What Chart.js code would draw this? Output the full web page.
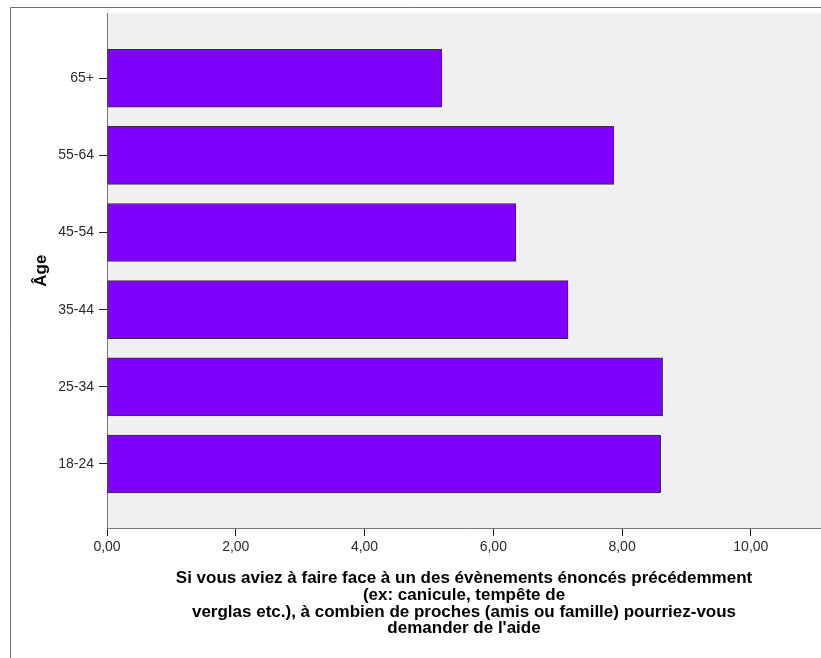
<!DOCTYPE html>
<html>
<head>
  <title>Âge</title>
  <script src="https://cdn.jsdelivr.net/npm/chart.js"></script>
  <style>
    body { margin: 0; background: #fff; }
  </style>
</head>
<body>
<canvas id="ageChart" width="821" height="658"></canvas>
<script>
  // tranches d'âge, du bas vers le haut
  const categories = ['18-24', '25-34', '35-44', '45-54', '55-64', '65+'];
  const values = [8.60, 8.63, 7.16, 6.35, 7.87, 5.20];
  const xTicks = [0, 2, 4, 6, 8, 10];
  const xTitle = [
    'Si vous aviez à faire face à un des évènements énoncés précédemment',
    '(ex: canicule, tempête de',
    'verglas etc.), à combien de proches (amis ou famille) pourriez-vous',
    'demander de l\'aide'
  ];
  const yTitle = 'Âge';

  const points = values.map((v, i) => ({ x: v, y: i }));
  const fontFamily = '"Liberation Sans", Arial, sans-serif';

  // fond gris de la zone et cadre extérieur
  const decor = {
    id: 'decor',
    beforeDraw(chart) {
      const { ctx, chartArea } = chart;
      ctx.save();
      ctx.fillStyle = '#f0f0f0';
      ctx.fillRect(chartArea.left, chartArea.top, chartArea.right - chartArea.left, chartArea.bottom - chartArea.top);
      ctx.strokeStyle = '#6e6e6e';
      ctx.lineWidth = 1;
      ctx.beginPath();
      ctx.moveTo(10.5, 658);
      ctx.lineTo(10.5, 7.5);
      ctx.lineTo(821, 7.5);
      ctx.stroke();
      ctx.restore();
    }
  };

  new Chart(document.getElementById('ageChart'), {
    type: 'bar',
    data: {
      datasets: [{
        data: points,
        backgroundColor: '#7f00ff',
        borderColor: '#333333',
        borderWidth: 1,
        borderSkipped: false,
        barThickness: 58
      }]
    },
    options: {
      indexAxis: 'y',
      responsive: false,
      animation: false,
      layout: { padding: { left: 10, top: 13, right: 0, bottom: 0 } },
      plugins: { legend: { display: false }, tooltip: { enabled: false } },
      scales: {
        x: {
          type: 'linear',
          min: 0,
          max: 11.09,
          afterBuildTicks: s => { s.ticks = xTicks.map(v => ({ value: v })); },
          afterFit: s => { s.height = 130; },
          grid: { drawOnChartArea: false, drawTicks: true, tickLength: 8, tickColor: '#222' },
          border: { display: true, color: '#777' },
          ticks: {
            padding: 3,
            color: '#2a2a2a',
            font: { family: fontFamily, size: 14 },
            callback: v => v.toFixed(2).replace('.', ',')
          },
          title: {
            display: true,
            text: xTitle,
            color: '#000',
            font: { family: fontFamily, size: 17, weight: 'bold', lineHeight: 0.98 },
            padding: { top: 4, bottom: 21 }
          }
        },
        y: {
          type: 'linear',
          offset: false,
          min: -0.83,
          max: 5.84,
          afterBuildTicks: s => { s.ticks = categories.map((c, i) => ({ value: i })); },
          afterFit: s => { s.width = 97; },
          grid: { offset: false, drawOnChartArea: false, drawTicks: true, tickLength: 8, tickColor: '#222' },
          border: { display: true, color: '#777' },
          ticks: {
            padding: 5,
            color: '#2a2a2a',
            font: { family: fontFamily, size: 14 },
            callback: v => categories[v]
          },
          title: {
            display: true,
            text: yTitle,
            color: '#000',
            font: { family: fontFamily, size: 17, weight: 'bold' },
            padding: { top: 21, bottom: 0 }
          }
        }
      }
    },
    plugins: [decor]
  });
</script>
</body>
</html>
